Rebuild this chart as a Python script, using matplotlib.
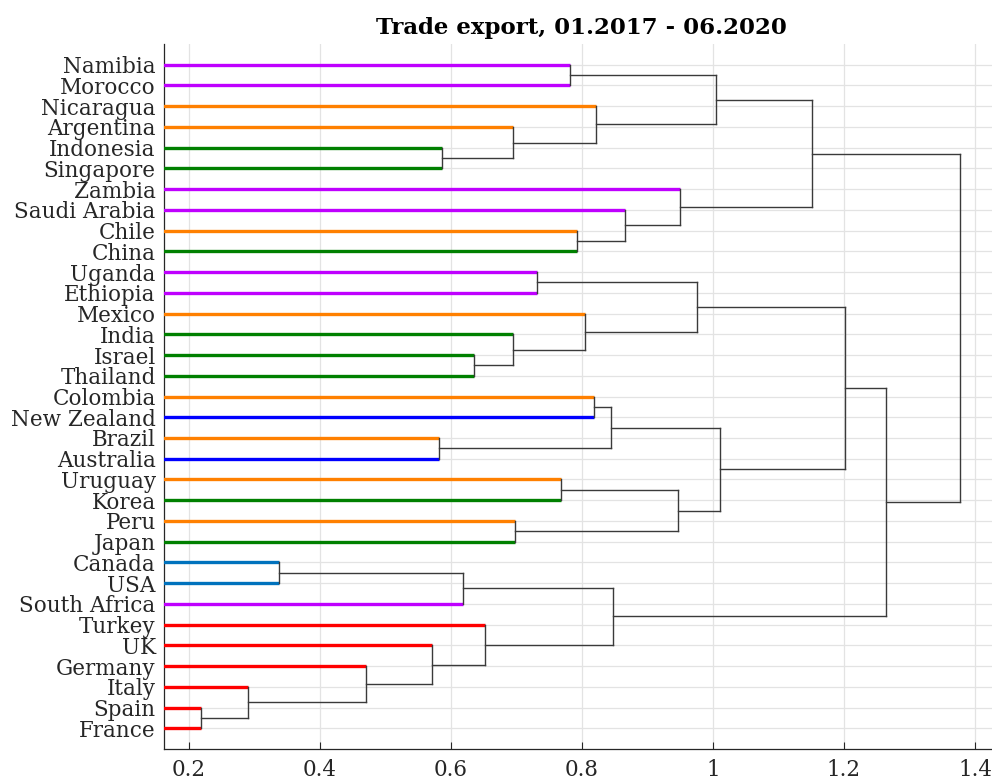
import numpy as np
import matplotlib
matplotlib.use("Agg")
import matplotlib.pyplot as plt

# leaves listed top to bottom, as they appear in the chart
leaves = ["Namibia", "Morocco", "Nicaragua", "Argentina", "Indonesia", "Singapore",
          "Zambia", "Saudi Arabia", "Chile", "China", "Uganda", "Ethiopia", "Mexico",
          "India", "Israel", "Thailand", "Colombia", "New Zealand", "Brazil", "Australia",
          "Uruguay", "Korea", "Peru", "Japan", "Canada", "USA", "South Africa", "Turkey",
          "UK", "Germany", "Italy", "Spain", "France"]

purple, orange, green = "#BF00FF", "#FF8000", "#008000"
blue, steel, red = "#0000FF", "#0072BD", "#FF0000"
leaf_colors = [purple, purple, orange, orange, green, green,
               purple, purple, orange, green, purple, purple, orange,
               green, green, green, orange, blue, orange, blue,
               orange, green, orange, green, steel, steel, purple, red,
               red, red, red, red, red]

# merges: (child a, child b, height); an int refers to an earlier merge
merges = [
    ("Namibia", "Morocco", 0.781),      # 0
    ("Indonesia", "Singapore", 0.587),  # 1
    ("Argentina", 1, 0.694),            # 2
    ("Nicaragua", 2, 0.821),            # 3
    (0, 3, 1.004),                      # 4
    ("Chile", "China", 0.792),          # 5
    ("Saudi Arabia", 5, 0.865),         # 6
    ("Zambia", 6, 0.949),               # 7
    (4, 7, 1.151),                      # 8
    ("Uganda", "Ethiopia", 0.731),      # 9
    ("Israel", "Thailand", 0.635),      # 10
    ("India", 10, 0.695),               # 11
    ("Mexico", 11, 0.805),              # 12
    (9, 12, 0.976),                     # 13
    ("Colombia", "New Zealand", 0.819), # 14
    ("Brazil", "Australia", 0.582),     # 15
    (14, 15, 0.844),                    # 16
    ("Uruguay", "Korea", 0.768),        # 17
    ("Peru", "Japan", 0.698),           # 18
    (17, 18, 0.947),                    # 19
    (16, 19, 1.010),                    # 20
    (13, 20, 1.201),                    # 21
    ("Canada", "USA", 0.338),           # 22
    (22, "South Africa", 0.619),        # 23
    ("Spain", "France", 0.219),         # 24
    ("Italy", 24, 0.291),               # 25
    ("Germany", 25, 0.471),             # 26
    ("UK", 26, 0.571),                  # 27
    ("Turkey", 27, 0.652),              # 28
    (23, 28, 0.848),                    # 29
    (21, 29, 1.264),                    # 30
    (8, 30, 1.377),                     # 31
]

n = len(leaves)
leaf_pos = {name: n - i for i, name in enumerate(leaves)}  # top leaf highest

plt.rcParams['font.family'] = ['DejaVu Serif']
fig = plt.figure(figsize=(9.92, 7.82), dpi=100)
ax = fig.add_axes([0.1653, 0.0422, 0.8407, 0.9015])

node_pos = {}
node_h = {}
link_col = "#3a3a3a"
x0 = 0.0
for k, (a, b, h) in enumerate(merges):
    ys = []
    for c in (a, b):
        if isinstance(c, str):
            y = leaf_pos[c]
            ax.plot([x0, h], [y, y], color=leaf_colors[leaves.index(c)], lw=2.4,
                    solid_capstyle='butt', zorder=3)
        else:
            y = node_pos[c]
            ax.plot([node_h[c], h], [y, y], color=link_col, lw=1.0, zorder=4)
        ys.append(y)
    ax.plot([h, h], ys, color=link_col, lw=1.0, zorder=4)
    node_pos[k] = (ys[0] + ys[1]) / 2
    node_h[k] = h

ax.set_xlim(0.162, 1.435)
ax.set_ylim(0, n + 1)
ax.set_yticks([leaf_pos[l] for l in leaves])
ax.set_yticklabels(leaves, fontsize=15.5, color="#262626")
xt = [0.2, 0.4, 0.6, 0.8, 1.0, 1.2, 1.4]
ax.set_xticks(xt)
ax.set_xticklabels(["%g" % v for v in xt], fontsize=15.5, color="#262626")
ax.tick_params(axis='x', direction='in', length=5, width=0.8, color="#262626", pad=7)
ax.tick_params(axis='y', length=0, pad=6)
ax.grid(True, color="#E3E3E3", lw=0.9)
ax.set_axisbelow(True)
for s in ["top", "right"]:
    ax.spines[s].set_visible(False)
for s in ["left", "bottom"]:
    ax.spines[s].set_color("#262626")
    ax.spines[s].set_linewidth(0.9)
ax.set_title("Trade export, 01.2017 - 06.2020", fontsize=16.5, fontweight='heavy', pad=7)

fig.savefig("out.png", dpi=100)
